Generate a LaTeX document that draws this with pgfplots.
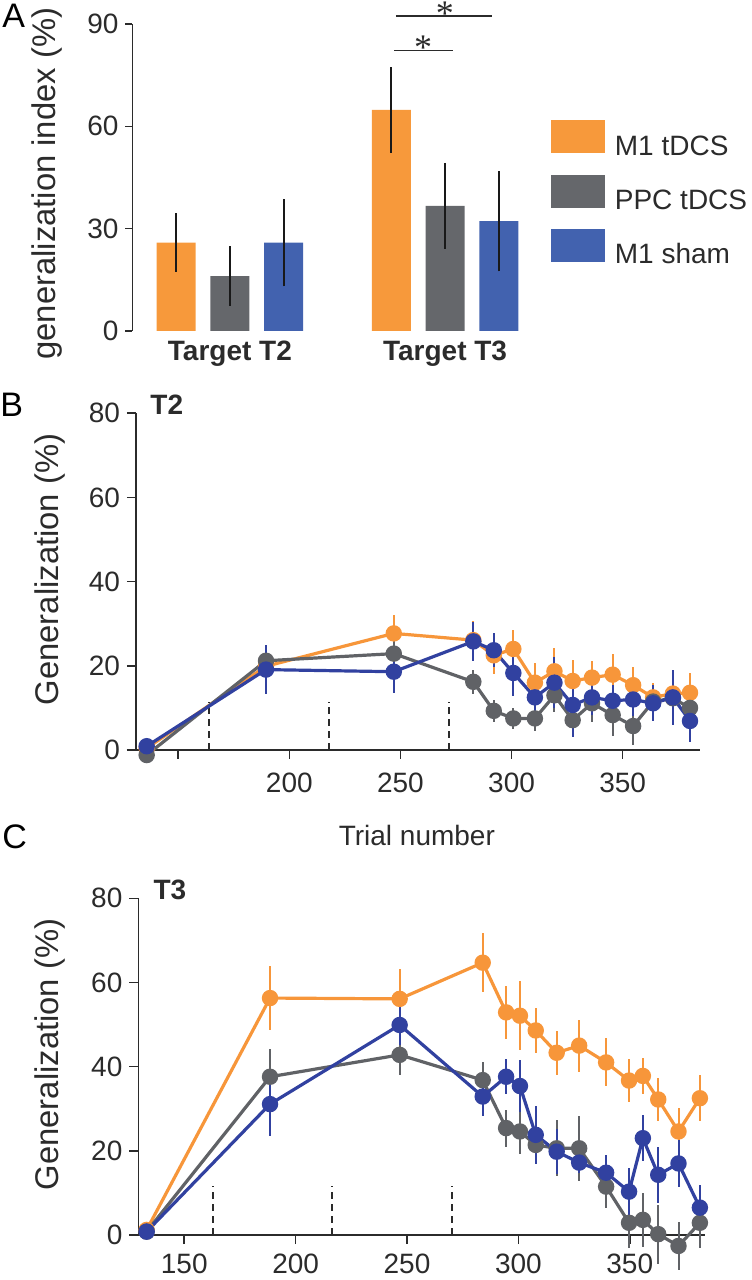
\documentclass[border=0pt]{standalone}
\usepackage{fontspec}
\setmainfont{Liberation Sans}
\newfontfamily\starfont{Liberation Serif}
\usepackage{pgfplots}
\pgfplotsset{compat=1.18}

\definecolor{cOr}{HTML}{F7993B}
\definecolor{cGr}{HTML}{65676B}
\definecolor{cBl}{HTML}{4262AF}
\definecolor{lOr}{HTML}{F7963A}
\definecolor{lGr}{HTML}{606266}
\definecolor{lBl}{HTML}{3141A0}
\definecolor{axc}{HTML}{2B2B2B}

\pgfplotsset{
  myax/.style={scale only axis, anchor=south west, axis lines*=left,
    tick align=outside, major tick length=4.5pt,
    axis line style={axc, line width=0.8pt},
    tick style={axc, line width=0.8pt},
    tick label style={font=\fontsize{14}{14}\selectfont, text=axc},
    label style={font=\fontsize{16.4}{16.4}\selectfont, text=axc},
    /pgf/number format/assume math mode=true, clip=false},
  ser/.style={line width=1.6pt, mark=*, mark size=3.3pt, mark options={solid},
    error bars/.cd, y dir=both, y explicit, error mark=none},
  dl/.style={axc, line width=0.9pt, dash pattern=on 3.5pt off 2.5pt, forget plot}
}

\begin{document}
\begin{tikzpicture}
\useasboundingbox (0,0) rectangle (375.5pt,640pt);

% ---------------- Panel A ----------------
\begin{axis}[myax, at={(66.25pt,474.5pt)}, width=196.65pt, height=153.5pt,
  xmin=0.19, xmax=7.5, ymin=0, ymax=90, ytick={0,30,60,90},
  major tick length=3.5pt,
  xtick={2,6}, xticklabels={Target T2,Target T3},
  x axis line style={draw=none}, xtick style={draw=none},
  xticklabel style={font=\bfseries\fontsize{14}{14}\selectfont, yshift=2pt},
  ylabel={generalization index (\%)},
  ylabel style={at={(axis description cs:-0.2174,0.48)}, anchor=center},
  ybar, bar width=0.725, bar shift=0pt,
  legend cell align=left,
  legend style={at={(axis description cs:1.0633,0.687)}, anchor=north west,
    draw=none, fill=none, inner sep=0pt, row sep=7.25pt,
    font=\fontsize{14}{14}\selectfont, text=axc,
    nodes={inner ysep=1pt, inner xsep=5pt}},
  error bars/error bar style={color=black!90, line width=1pt}]
\addplot[fill=cOr, draw=none, forget plot, error bars/.cd, y dir=both, y explicit, error mark=none]
  coordinates {(1,25.9) +- (0,8.6) (5,64.8) +- (0,12.5)};
\addplot[fill=cGr, draw=none, forget plot, error bars/.cd, y dir=both, y explicit, error mark=none]
  coordinates {(2,16.1) +- (0,8.7) (6,36.7) +- (0,12.6)};
\addplot[fill=cBl, draw=none, forget plot, error bars/.cd, y dir=both, y explicit, error mark=none]
  coordinates {(3,25.9) +- (0,12.8) (7,32.2) +- (0,14.7)};
\addlegendimage{legend image code/.code={\fill[cOr] (0pt,-3pt) rectangle (26.5pt,13pt);}}
\addlegendentry{M1 tDCS}
\addlegendimage{legend image code/.code={\fill[cGr] (0pt,-3pt) rectangle (26.5pt,13pt);}}
\addlegendentry{PPC tDCS}
\addlegendimage{legend image code/.code={\fill[cBl] (0pt,-3pt) rectangle (26.5pt,13pt);}}
\addlegendentry{M1 sham}
\draw[axc, line width=0.8pt] (axis cs:5.085,92.3) -- (axis cs:6.88,92.3);
\draw[axc, line width=0.8pt] (axis cs:5.054,82.2) -- (axis cs:6.14,82.2);
\node[anchor=base, inner sep=0pt, text=axc, font=\starfont\fontsize{18}{18}\selectfont] at (axis cs:5.996,89.6) {*};
\node[anchor=base, inner sep=0pt, text=axc, font=\starfont\fontsize{18}{18}\selectfont] at (axis cs:5.593,79.5) {*};
\end{axis}

% ---------------- Panel B ----------------
\begin{axis}[myax, at={(68pt,265pt)}, width=282pt, height=168.35pt,
  xmin=131, xmax=384.8, ymin=0, ymax=80,
  x axis line style={shorten <=-4.5pt},
  xtick={150,200,250,300,350}, xticklabels={,200,250,300,350},
  ytick={0,20,40,60,80},
  xticklabel style={yshift=-3.5pt},
  xlabel={Trial number},
  xlabel style={at={(axis description cs:0.498,-0.2525)}, anchor=center, font=\fontsize{14}{14}\selectfont},
  ylabel={Generalization (\%)},
  ylabel style={at={(axis description cs:-0.1525,0.536)}, anchor=center}]
\addplot[dl] coordinates {(164,0) (164,11.5)};
\addplot[dl] coordinates {(218,0) (218,11.5)};
\addplot[dl] coordinates {(272,0) (272,11.5)};
\addplot[color=lOr, ser, error bar style={color=lOr, line width=1pt}] table[x=x, y=y, y error=e] {
x y e
135.8 0.4 1.0
189.5 19.9 3.0
247 27.7 4.3
282.8 26.1 4.5
292 22.5 4.5
300.8 24 4.6
310.5 16 4.7
319.3 18.7 5.6
327.5 16.4 5
336.2 17.2 4
345.5 17.9 5
354.7 15.4 4.4
363.7 12.5 3.5
372.6 13.4 4
380.3 13.6 4.7
};
\addplot[color=lGr, ser, error bar style={color=lGr, line width=1pt}] table[x=x, y=y, y error=e] {
x y e
135.8 -1.2 1.0
189.5 21.2 3.5
247 22.9 4.5
282.8 16.2 2.8
292 9.3 2.6
300.8 7.5 2.5
310.5 7.5 3
319.3 13 4
327.5 7.1 3
336.2 11.1 4.5
345.5 8.3 5
354.7 5.7 4.4
363.7 11.5 4
372.6 12.3 4
380.3 10 4
};
\addplot[color=lBl, ser, error bar style={color=lBl, line width=1pt}] table[x=x, y=y, y error=e] {
x y e
135.8 0.9 1.0
189.5 19.1 5.9
247 18.6 5.1
282.8 25.8 4.6
292 23.7 4
300.8 18.3 5.5
310.5 12.5 4.2
319.3 16 6
327.5 10.7 7.5
336.2 12.5 4.3
345.5 11.7 3.8
354.7 12 3.9
363.7 11.1 4.3
372.6 12.5 6.5
380.3 6.9 5
};
\node[anchor=base west, inner sep=0pt, text=axc, font=\bfseries\fontsize{14}{14}\selectfont] at (axis cs:137.3,79.6) {T2};
\end{axis}

% ---------------- Panel C ----------------
\begin{axis}[myax, at={(69.2pt,22.5pt)}, width=283.3pt, height=168.35pt,
  xmin=129.4, xmax=383.8, ymin=0, ymax=80,
  x axis line style={shorten <=-4.5pt},
  xtick={150,200,250,300,350},
  ytick={0,20,40,60,80},
  xticklabel style={yshift=-1.5pt},
  ylabel={Generalization (\%)},
  ylabel style={at={(axis description cs:-0.156,0.536)}, anchor=center}]
\addplot[dl] coordinates {(162.8,0) (162.8,11.6)};
\addplot[dl] coordinates {(216.4,0) (216.4,11.6)};
\addplot[dl] coordinates {(270.3,0) (270.3,11.6)};
\addplot[color=lOr, ser, error bar style={color=lOr, line width=1pt}] table[x=x, y=y, y error=e] {
x y e
133.1 1.2 1.5
188.5 56.3 7.5
246.7 56.1 7
284 64.7 7
294.5 52.9 6.3
300.7 52.1 8.2
307.8 48.6 5.3
317.2 43.3 5.2
327.3 45 6.2
339.4 41 5.7
349.7 36.7 5
355.9 37.8 4.2
362.8 32.2 5
371.9 24.6 5.5
381.5 32.5 5.4
};
\addplot[color=lGr, ser, error bar style={color=lGr, line width=1pt}] table[x=x, y=y, y error=e] {
x y e
133.1 0.8 1.0
188.5 37.6 6.7
246.7 42.8 4.9
284 36.8 4.4
294.5 25.4 4.4
300.7 24.6 5.3
307.8 21.4 3
317.2 20.6 6.7
327.3 20.6 7.7
339.4 11.5 5.2
349.7 2.9 6.1
355.9 3.6 6.4
362.8 0.2 7
371.9 -2.6 5.7
381.5 2.9 6
};
\addplot[color=lBl, ser, error bar style={color=lBl, line width=1pt}] table[x=x, y=y, y error=e] {
x y e
133.1 0.8 1.5
188.5 31.1 7.5
246.7 49.9 4.8
284 32.9 4.6
294.5 37.6 4.2
300.7 35.4 6.1
307.8 23.8 6.9
317.2 19.8 5.3
327.3 17.2 2.5
339.4 14.8 4.2
349.7 10.3 5.7
355.9 23 5.5
362.8 14.3 6.7
371.9 17 5.5
381.5 6.5 5.3
};
\node[anchor=base west, inner sep=0pt, text=axc, font=\bfseries\fontsize{14}{14}\selectfont] at (axis cs:136,79.8) {T3};
\end{axis}

% panel letters
\node[anchor=base west, inner sep=0pt, font=\fontsize{17}{17}\selectfont] at (1pt,626pt) {A};
\node[anchor=base west, inner sep=0pt, font=\fontsize{17}{17}\selectfont] at (0pt,431.5pt) {B};
\node[anchor=base west, inner sep=0pt, font=\fontsize{17}{17}\selectfont] at (1pt,215.5pt) {C};
\end{tikzpicture}
\end{document}
